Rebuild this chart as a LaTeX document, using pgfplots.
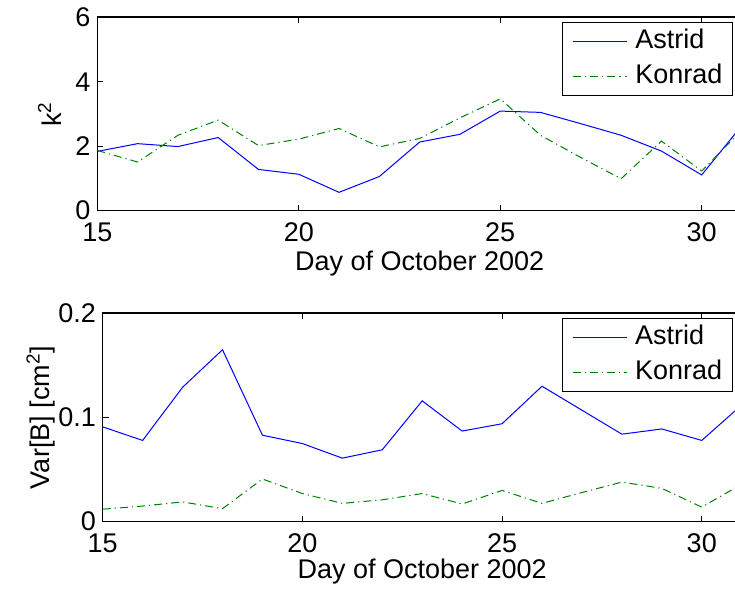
\documentclass[border=0pt]{standalone}
\usepackage{pgfplots}
\pgfplotsset{compat=1.18}
\usepackage{fontspec}
\setmainfont{Liberation Sans}
\definecolor{mblue}{rgb}{0,0,1}
\definecolor{mgreen}{rgb}{0,0.5,0}
\pgfplotsset{
  mstyle/.style={
    scale only axis,
    xmin=15, xmax=31,
    xtick={15,20,25,30},
    tick align=inside,
    major tick length=3pt,
    axis line style={line width=0.8pt},
    every tick/.style={black, line width=0.5pt},
    /pgf/number format/assume math mode=true,
    tick label style={font=\fontsize{13.5}{16}\selectfont},
    xticklabel style={anchor=base, yshift=-15.5pt},
    yticklabel style={anchor=east, inner sep=0pt, xshift=-3.2pt},
    xlabel={Day of October 2002},
    legend style={at={(1,1)}, anchor=north east, xshift=-4.5pt, yshift=-2.6pt,
      font=\fontsize{13.5}{16}\selectfont, line width=0.5pt,
      legend cell align=left, inner xsep=5pt, inner ysep=3pt, row sep=4.3pt, column sep=4pt,
      nodes={inner sep=0pt, text height=10pt, text depth=3pt}},
    legend image code/.code={\draw[#1, line width=0.5pt] (0pt,0pt) -- (27pt,0pt);},
    clip=true,
  },
  astrid/.style={mblue, line width=0.5pt},
  konrad/.style={mgreen, line width=0.5pt, dash pattern=on 4pt off 2pt on 0.6pt off 2pt},
}
\begin{document}
\begin{tikzpicture}
\begin{axis}[mstyle,
  at={(48.65pt,189.15pt)}, anchor=south west,
  width=322.35pt, height=96.7pt,
  ymin=0, ymax=6, ytick={0,2,4,6},
  every axis x label/.style={at={(axis description cs:0.5,0)}, yshift=-30.15pt, anchor=base, font=\fontsize{13.5}{16}\selectfont},
  every axis y label/.style={at={(axis description cs:0,0.5)}, xshift=-17.8pt, anchor=base, rotate=90, font=\fontsize{13.5}{16}\selectfont},
  ylabel={k\textsuperscript{2}},
]
\addplot[astrid] coordinates {(15,1.84) (16,2.08) (17,1.99) (18,2.27) (19,1.28) (20,1.13) (21,0.57) (22,1.06) (23,2.13) (24,2.37) (25,3.09) (26,3.05) (27,2.70) (28,2.34) (29,1.85) (30,1.11) (31,2.65)};
\addlegendentry{Astrid}
\addplot[konrad] coordinates {(15,1.87) (16,1.51) (17,2.34) (18,2.81) (19,2.02) (20,2.22) (21,2.55) (22,1.98) (23,2.24) (24,2.88) (25,3.47) (26,2.34) (27,1.65) (28,0.99) (29,2.16) (30,1.23) (31,2.51)};
\addlegendentry{Konrad}
\end{axis}
\begin{axis}[mstyle,
  at={(51.35pt,33.65pt)}, anchor=south west,
  width=319.5pt, height=104.2pt,
  ymin=0, ymax=0.2, ytick={0,0.1,0.2},
  yticklabels={0,0.1,0.2},
  every axis x label/.style={at={(axis description cs:0.5,0)}, yshift=-28.3pt, anchor=base, font=\fontsize{13.5}{16}\selectfont},
  every axis y label/.style={at={(axis description cs:0,0.5)}, xshift=-26.35pt, anchor=base, rotate=90, font=\fontsize{13.5}{16}\selectfont},
  ylabel={Var[B] [cm\textsuperscript{2}]},
]
\addplot[astrid] coordinates {(15,0.091) (16,0.078) (17,0.129) (18,0.165) (19,0.083) (20,0.075) (21,0.061) (22,0.069) (23,0.116) (24,0.087) (25,0.094) (26,0.130) (27,0.107) (28,0.084) (29,0.089) (30,0.078) (31,0.112)};
\addlegendentry{Astrid}
\addplot[konrad] coordinates {(15,0.012) (16,0.015) (17,0.019) (18,0.0125) (19,0.041) (20,0.027) (21,0.0176) (22,0.021) (23,0.027) (24,0.017) (25,0.030) (26,0.0176) (27,0.028) (28,0.038) (29,0.032) (30,0.014) (31,0.036)};
\addlegendentry{Konrad}
\end{axis}
\pgfresetboundingbox
\useasboundingbox (0pt,0pt) rectangle (367.5pt,294.5pt);
\end{tikzpicture}
\end{document}
